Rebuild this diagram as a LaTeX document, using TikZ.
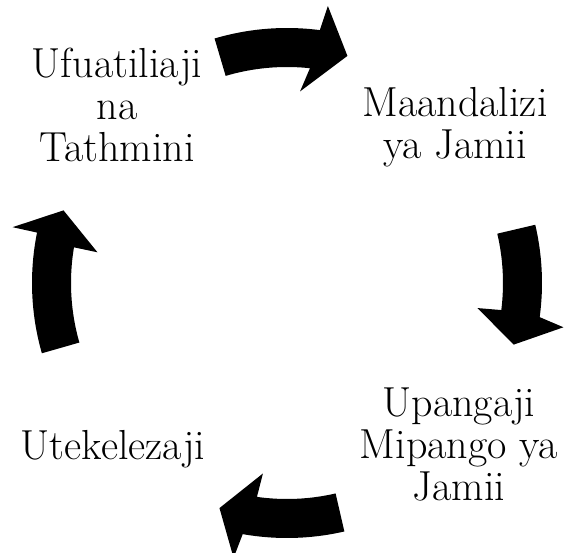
\documentclass[tikz,border=0pt]{standalone}
\usepackage{fontspec}
\newcommand\cycarrow[6]{%
  \fill[arr] ([shift={(#1:255)}]C) arc[start angle=#1, end angle=#2, radius=255]
    -- ([shift={(#3:280)}]C) -- ([shift={(#4:235)}]C) -- ([shift={(#5:192)}]C)
    -- ([shift={(#6:216)}]C) arc[start angle=#6, end angle=#1, radius=216] -- cycle;}
\begin{document}
\begin{tikzpicture}[x=1pt,y=1pt,
  lbl/.style={font=\fontsize{42}{42}\selectfont, align=center, inner sep=0pt, text=black},
  arr/.style={fill=black}]
\useasboundingbox (0,0) rectangle (568,553);
\clip (0,0) rectangle (568,553);
\coordinate (C) at (287,270);
\cycarrow{106.5}{82.6}{81.6}{75.1}{86.1}{83.9}
\cycarrow{13.2}{-7.7}{-9.1}{-15.2}{-7.5}{-7.2}
\cycarrow{-77}{-100}{-101}{-106.7}{-97.2}{-98}
\cycarrow{196}{168.6}{168.5}{162}{170.8}{170.5}
\node[lbl] (mon) at (117,448) {Ufuatiliaji\\na\\Tathmini};
\node[lbl] (prep) at (455,426) {Maandalizi\\ya Jamii};
\node[lbl] (plan) at (459,109) {Upangaji\\Mipango ya\\Jamii};
\node[lbl] (impl) at (113,103.5) {Utekelezaji};
\end{tikzpicture}
\end{document}
